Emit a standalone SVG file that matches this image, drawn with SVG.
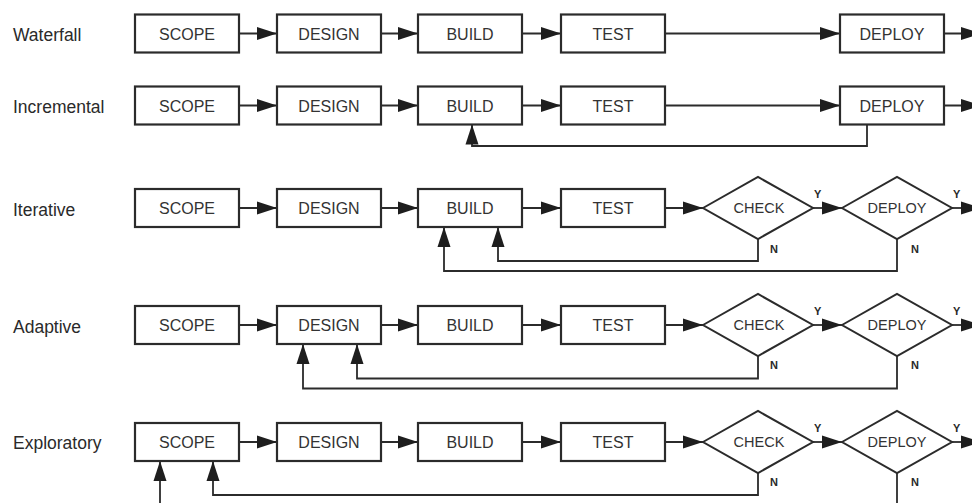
<svg xmlns="http://www.w3.org/2000/svg" width="972" height="503" viewBox="0 0 972 503">
  <style>
    .bg { fill: #ffffff; }
    .box { fill: #ffffff; stroke: #2b2b2b; stroke-width: 2.2; }
    .dia { fill: #ffffff; stroke: #2b2b2b; stroke-width: 2; stroke-linejoin: miter; }
    .t { font-family: "Liberation Sans", Arial, Helvetica, sans-serif; font-size: 16px; fill: #333333; text-anchor: middle; }
    .td { font-family: "Liberation Sans", Arial, Helvetica, sans-serif; font-size: 14.5px; fill: #333333; text-anchor: middle; }
    .lbl { font-family: "Liberation Sans", Arial, Helvetica, sans-serif; font-size: 17.5px; fill: #2a2a2a; }
    .yn { font-family: "Liberation Sans", Arial, Helvetica, sans-serif; font-size: 11px; font-weight: bold; fill: #2a2a2a; }
    .c { fill: none; stroke: #2b2b2b; stroke-width: 1.8; }
    .a { marker-end: url(#head); }
  </style>
  <defs>
    <marker id="head" markerUnits="userSpaceOnUse" markerWidth="20" markerHeight="14" viewBox="0 0 20 14" refX="20" refY="7" orient="auto">
      <path d="M0,0.5 L20,7 L0,13.5 Z" fill="#1e1e1e"/>
    </marker>
  </defs>
  <rect class="bg" x="0" y="0" width="972" height="503"/>

  <!-- row labels -->
  <g id="labels">
    <text class="lbl" x="13" y="40.5">Waterfall</text>
    <text class="lbl" x="13" y="112.5">Incremental</text>
    <text class="lbl" x="13" y="215.5">Iterative</text>
    <text class="lbl" x="13" y="332.5">Adaptive</text>
    <text class="lbl" x="13" y="449">Exploratory</text>
  </g>

  <!-- connectors -->
  <g id="connectors">
    <!-- Waterfall (y=33.5) -->
    <path class="c a" d="M239,33.5 H277"/>
    <path class="c a" d="M381,33.5 H418"/>
    <path class="c a" d="M522,33.5 H561"/>
    <path class="c a" d="M665,33.5 H840"/>
    <path class="c a" d="M944,33.5 H981"/>

    <!-- Incremental (y=105.5) -->
    <path class="c a" d="M239,105.5 H277"/>
    <path class="c a" d="M381,105.5 H418"/>
    <path class="c a" d="M522,105.5 H561"/>
    <path class="c a" d="M665,105.5 H840"/>
    <path class="c a" d="M944,105.5 H981"/>
    <path class="c a" d="M867,124.5 V146 H472 V124.5"/>

    <!-- Iterative (y=208) -->
    <path class="c a" d="M239,208 H277"/>
    <path class="c a" d="M381,208 H418"/>
    <path class="c a" d="M522,208 H561"/>
    <path class="c a" d="M665,208 H703"/>
    <path class="c a" d="M813,208 H842"/>
    <path class="c a" d="M952,208 H981"/>
    <path class="c a" d="M758,239 V261 H498 V227"/>
    <path class="c a" d="M897,239 V271 H444 V227"/>

    <!-- Adaptive (y=325) -->
    <path class="c a" d="M239,325 H277"/>
    <path class="c a" d="M381,325 H418"/>
    <path class="c a" d="M522,325 H561"/>
    <path class="c a" d="M665,325 H703"/>
    <path class="c a" d="M813,325 H842"/>
    <path class="c a" d="M952,325 H981"/>
    <path class="c a" d="M758,356 V378.5 H357 V344"/>
    <path class="c a" d="M897,356 V388.5 H303 V344"/>

    <!-- Exploratory (y=442) -->
    <path class="c a" d="M239,442 H277"/>
    <path class="c a" d="M381,442 H418"/>
    <path class="c a" d="M522,442 H561"/>
    <path class="c a" d="M665,442 H703"/>
    <path class="c a" d="M813,442 H842"/>
    <path class="c a" d="M952,442 H981"/>
    <path class="c a" d="M758,473 V495 H213 V461"/>
    <path class="c" d="M897,473 V510"/>
    <path class="c a" d="M160,510 V461"/>
  </g>

  <!-- Waterfall nodes -->
  <g id="wf-scope"><rect class="box" x="135" y="14.5" width="104" height="38"/><text class="t" x="187" y="39.5">SCOPE</text></g>
  <g id="wf-design"><rect class="box" x="277" y="14.5" width="104" height="38"/><text class="t" x="329" y="39.5">DESIGN</text></g>
  <g id="wf-build"><rect class="box" x="418" y="14.5" width="104" height="38"/><text class="t" x="470" y="39.5">BUILD</text></g>
  <g id="wf-test"><rect class="box" x="561" y="14.5" width="104" height="38"/><text class="t" x="613" y="39.5">TEST</text></g>
  <g id="wf-deploy"><rect class="box" x="840" y="14.5" width="104" height="38"/><text class="t" x="892" y="39.5">DEPLOY</text></g>

  <!-- Incremental nodes -->
  <g id="inc-scope"><rect class="box" x="135" y="86.5" width="104" height="38"/><text class="t" x="187" y="111.5">SCOPE</text></g>
  <g id="inc-design"><rect class="box" x="277" y="86.5" width="104" height="38"/><text class="t" x="329" y="111.5">DESIGN</text></g>
  <g id="inc-build"><rect class="box" x="418" y="86.5" width="104" height="38"/><text class="t" x="470" y="111.5">BUILD</text></g>
  <g id="inc-test"><rect class="box" x="561" y="86.5" width="104" height="38"/><text class="t" x="613" y="111.5">TEST</text></g>
  <g id="inc-deploy"><rect class="box" x="840" y="86.5" width="104" height="38"/><text class="t" x="892" y="111.5">DEPLOY</text></g>

  <!-- Iterative nodes -->
  <g id="it-scope"><rect class="box" x="135" y="189" width="104" height="38"/><text class="t" x="187" y="214">SCOPE</text></g>
  <g id="it-design"><rect class="box" x="277" y="189" width="104" height="38"/><text class="t" x="329" y="214">DESIGN</text></g>
  <g id="it-build"><rect class="box" x="418" y="189" width="104" height="38"/><text class="t" x="470" y="214">BUILD</text></g>
  <g id="it-test"><rect class="box" x="561" y="189" width="104" height="38"/><text class="t" x="613" y="214">TEST</text></g>
  <g id="it-check"><polygon class="dia" points="703,208 758,177 813,208 758,239"/><text class="td" x="759" y="213">CHECK</text><text class="yn" x="814" y="197.5">Y</text><text class="yn" x="770" y="252.5">N</text></g>
  <g id="it-deploy"><polygon class="dia" points="842,208 897,177 952,208 897,239"/><text class="td" x="897" y="213">DEPLOY</text><text class="yn" x="953" y="197.5">Y</text><text class="yn" x="911" y="252.5">N</text></g>

  <!-- Adaptive nodes -->
  <g id="ad-scope"><rect class="box" x="135" y="306" width="104" height="38"/><text class="t" x="187" y="331">SCOPE</text></g>
  <g id="ad-design"><rect class="box" x="277" y="306" width="104" height="38"/><text class="t" x="329" y="331">DESIGN</text></g>
  <g id="ad-build"><rect class="box" x="418" y="306" width="104" height="38"/><text class="t" x="470" y="331">BUILD</text></g>
  <g id="ad-test"><rect class="box" x="561" y="306" width="104" height="38"/><text class="t" x="613" y="331">TEST</text></g>
  <g id="ad-check"><polygon class="dia" points="703,325 758,294 813,325 758,356"/><text class="td" x="759" y="330">CHECK</text><text class="yn" x="814" y="314.5">Y</text><text class="yn" x="770" y="368.5">N</text></g>
  <g id="ad-deploy"><polygon class="dia" points="842,325 897,294 952,325 897,356"/><text class="td" x="897" y="330">DEPLOY</text><text class="yn" x="953" y="314.5">Y</text><text class="yn" x="911" y="368.5">N</text></g>

  <!-- Exploratory nodes -->
  <g id="ex-scope"><rect class="box" x="135" y="423" width="104" height="38"/><text class="t" x="187" y="448">SCOPE</text></g>
  <g id="ex-design"><rect class="box" x="277" y="423" width="104" height="38"/><text class="t" x="329" y="448">DESIGN</text></g>
  <g id="ex-build"><rect class="box" x="418" y="423" width="104" height="38"/><text class="t" x="470" y="448">BUILD</text></g>
  <g id="ex-test"><rect class="box" x="561" y="423" width="104" height="38"/><text class="t" x="613" y="448">TEST</text></g>
  <g id="ex-check"><polygon class="dia" points="703,442 758,411 813,442 758,473"/><text class="td" x="759" y="447">CHECK</text><text class="yn" x="814" y="431.5">Y</text><text class="yn" x="770" y="485.5">N</text></g>
  <g id="ex-deploy"><polygon class="dia" points="842,442 897,411 952,442 897,473"/><text class="td" x="897" y="447">DEPLOY</text><text class="yn" x="953" y="431.5">Y</text><text class="yn" x="911" y="485.5">N</text></g>
</svg>
